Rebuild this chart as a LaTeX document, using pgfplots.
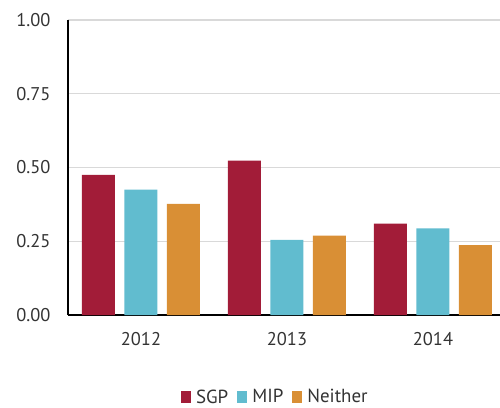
\documentclass[border=0pt]{standalone}
\usepackage{pgfplots}
\pgfplotsset{compat=1.18}
\usepackage{fontspec}
\setmainfont{PT Sans}
\definecolor{sgp}{HTML}{A21C38}
\definecolor{mip}{HTML}{61BCCF}
\definecolor{nei}{HTML}{D98F35}
\definecolor{txt}{HTML}{333333}
\definecolor{grd}{HTML}{D9D9D9}
\begin{document}
\begin{tikzpicture}
\begin{axis}[
  scale only axis,
  width=432bp, height=295bp,
  ybar=9.5bp, bar width=33bp,
  xmin=-0.5, xmax=2.459,
  ymin=0, ymax=1,
  xtick={0,1,2}, xticklabels={2012,2013,2014},
  ytick={0,0.25,0.5,0.75,1},
  y tick label style={/pgf/number format/fixed, /pgf/number format/fixed zerofill, /pgf/number format/precision=2},
  /pgf/number format/assume math mode=true,
  axis x line*=bottom, axis y line*=left,
  axis line style={black, line width=1.5bp},
  major tick length=0pt,
  ymajorgrids, grid style={grd, line width=1.3bp},
  tick label style={font=\fontsize{18.5}{22}\selectfont, text=txt},
  yticklabel style={xshift=-14bp},
  xticklabel style={yshift=-14bp},
  legend style={at={(0.48,-0.278)}, anchor=center, draw=none,
    legend columns=-1, font=\fontsize{19}{22}\selectfont, text=txt,
    /tikz/every odd column/.append style={column sep=3.5bp},
    /tikz/every even column/.append style={column sep=7bp}},
  legend image code/.code={\fill[#1] (0bp,-6.3bp) rectangle (9.5bp,6.3bp);},
  clip=false,
]
\addplot[fill=sgp, draw=none] coordinates {(0,0.475) (1,0.523) (2,0.310)};
\addplot[fill=mip, draw=none] coordinates {(0,0.425) (1,0.255) (2,0.294)};
\addplot[fill=nei, draw=none] coordinates {(0,0.377) (1,0.269) (2,0.237)};
\legend{SGP,MIP,Neither}
\end{axis}
\pgfresetboundingbox
\path[use as bounding box] (-68bp,-93bp) rectangle (432bp,315bp);
\end{tikzpicture}
\end{document}
